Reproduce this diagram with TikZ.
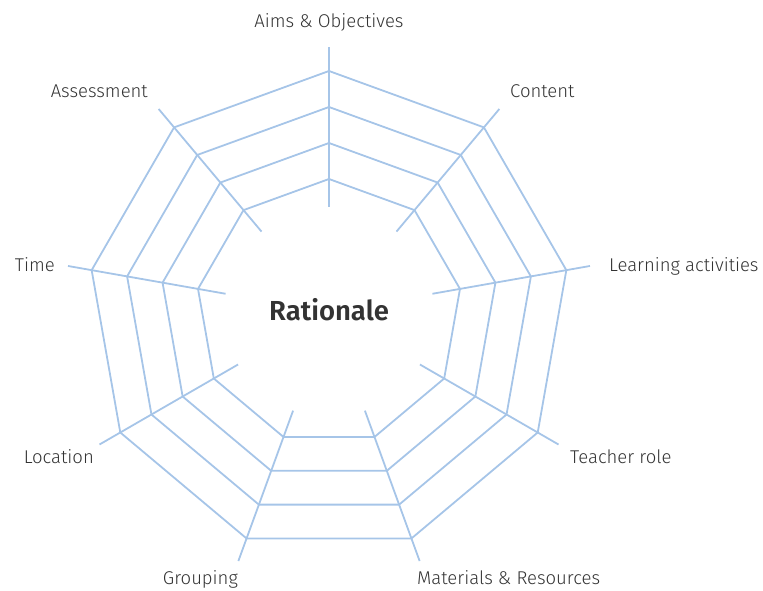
\documentclass[tikz,border=0pt]{standalone}
\usepackage{fontspec}
\setmainfont{Fira Sans}[UprightFont=* Light, BoldFont=* SemiBold]
\definecolor{webblue}{RGB}{166,197,232}
\definecolor{inkgrey}{RGB}{51,51,51}

\begin{document}
\begin{tikzpicture}[
  x = 1pt, y = 1pt,
  web/.style = {
    draw = webblue,
    line width = 1.8pt,
    line join = miter,
  },
  spoketext/.style = {
    text = inkgrey,
    inner sep = 0pt,
    font = \fontsize{18.5}{20}\selectfont,
  }
]
  \useasboundingbox (0, 0) rectangle (763, 590);

  \begin{scope}[shift = {(329, 278)}]
    % spokes
    \foreach \a [count = \i] in {90, 50, 10, -30, -70, -110, -150, 170, 130} {
      \coordinate (in\i) at (\a:105);
      \coordinate (out\i) at (\a:265);
      \draw[web] (in\i) -- (out\i);
    }

    % rings
    \foreach \r in {133, 169, 205, 241} {
      \draw[web] (90:\r) -- (50:\r) -- (10:\r) -- (-30:\r) -- (-70:\r)
        -- (-110:\r) -- (-150:\r) -- (170:\r) -- (130:\r) -- cycle;
    }

    \node[spoketext, font = \fontsize{27.5}{30}\selectfont\bfseries, anchor = base]
      (rationale) at (0, -8) {Rationale};
  \end{scope}

  \node[spoketext, anchor = base] (aims) at (329, 562) {Aims \& Objectives};
  \node[spoketext, anchor = base west] (content) at (510, 492) {Content};
  \node[spoketext, anchor = base west] (learning) at (609, 318) {Learning activities};
  \node[spoketext, anchor = base west] (teacher) at (570, 127) {Teacher role};
  \node[spoketext, anchor = base west] (materials) at (417, 6) {Materials \& Resources};
  \node[spoketext, anchor = base east] (grouping) at (238, 6) {Grouping};
  \node[spoketext, anchor = base east] (location) at (94, 127) {Location};
  \node[spoketext, anchor = base east] (time) at (55, 318) {Time};
  \node[spoketext, anchor = base east] (assessment) at (148, 492) {Assessment};
\end{tikzpicture}
\end{document}
